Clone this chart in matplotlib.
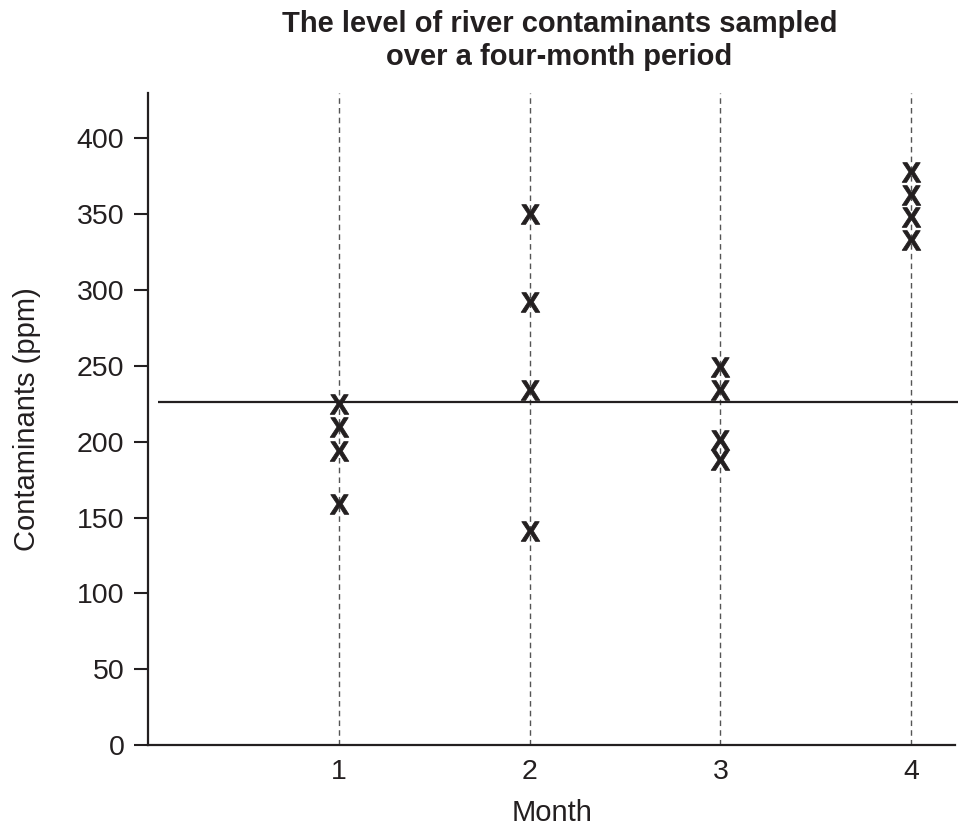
import matplotlib
matplotlib.use('Agg')
import matplotlib.pyplot as plt

plt.rcParams['font.family'] = ['Liberation Sans', 'DejaVu Sans']
plt.rcParams['mathtext.fontset'] = 'custom'
plt.rcParams['mathtext.bf'] = 'Liberation Sans:bold'
plt.rcParams['mathtext.rm'] = 'Liberation Sans'

# Data
months = [1, 2, 3, 4]
month1 = [225, 210, 194, 159]
month2 = [350, 292, 234, 141]
month3 = [249, 234, 201, 188]
month4 = [378, 363, 348, 333]
mean_level = 226
yticks = [0, 50, 100, 150, 200, 250, 300, 350, 400]

ink = '#231f20'

fig = plt.figure(figsize=(9.58, 8.30), dpi=100)
ax = fig.add_axes([0.1545, 0.1024, 0.8425, 0.7856])

ax.set_xlim(0, 4.23)
ax.set_ylim(0, 430)

# vertical dashed guides for each month
for m in months:
    ax.axvline(m, color='#555555', lw=1, ls=(0, (4, 3)), zorder=1)

# mean line
ax.hlines(mean_level, 0.05, 4.26, color=ink, lw=1.6, clip_on=False, zorder=2)

for m, vals in zip(months, [month1, month2, month3, month4]):
    ax.scatter([m] * len(vals), vals, marker=r'$\mathbf{X}$', s=200,
               color=ink, linewidths=0.6, edgecolors=ink, zorder=3)

for side in ['top', 'right']:
    ax.spines[side].set_visible(False)
for side in ['left', 'bottom']:
    ax.spines[side].set_color(ink)
    ax.spines[side].set_linewidth(1.6)

ax.set_yticks(yticks)
ax.set_xticks(months)
ax.tick_params(axis='y', length=10, width=1.5, color=ink, labelsize=20.5, labelcolor=ink, pad=7)
ax.tick_params(axis='x', length=0, labelsize=20.5, labelcolor=ink, pad=10)

ax.set_xlabel('Month', fontsize=21, color=ink, labelpad=10)
ax.set_ylabel('Contaminants (ppm)', fontsize=21, color=ink, labelpad=26)

fig.suptitle('The level of river contaminants sampled\nover a four-month period',
             x=0.584, y=0.988, fontsize=21, fontweight='bold', color=ink,
             linespacing=1.25)

fig.savefig('out.png', dpi=100)
